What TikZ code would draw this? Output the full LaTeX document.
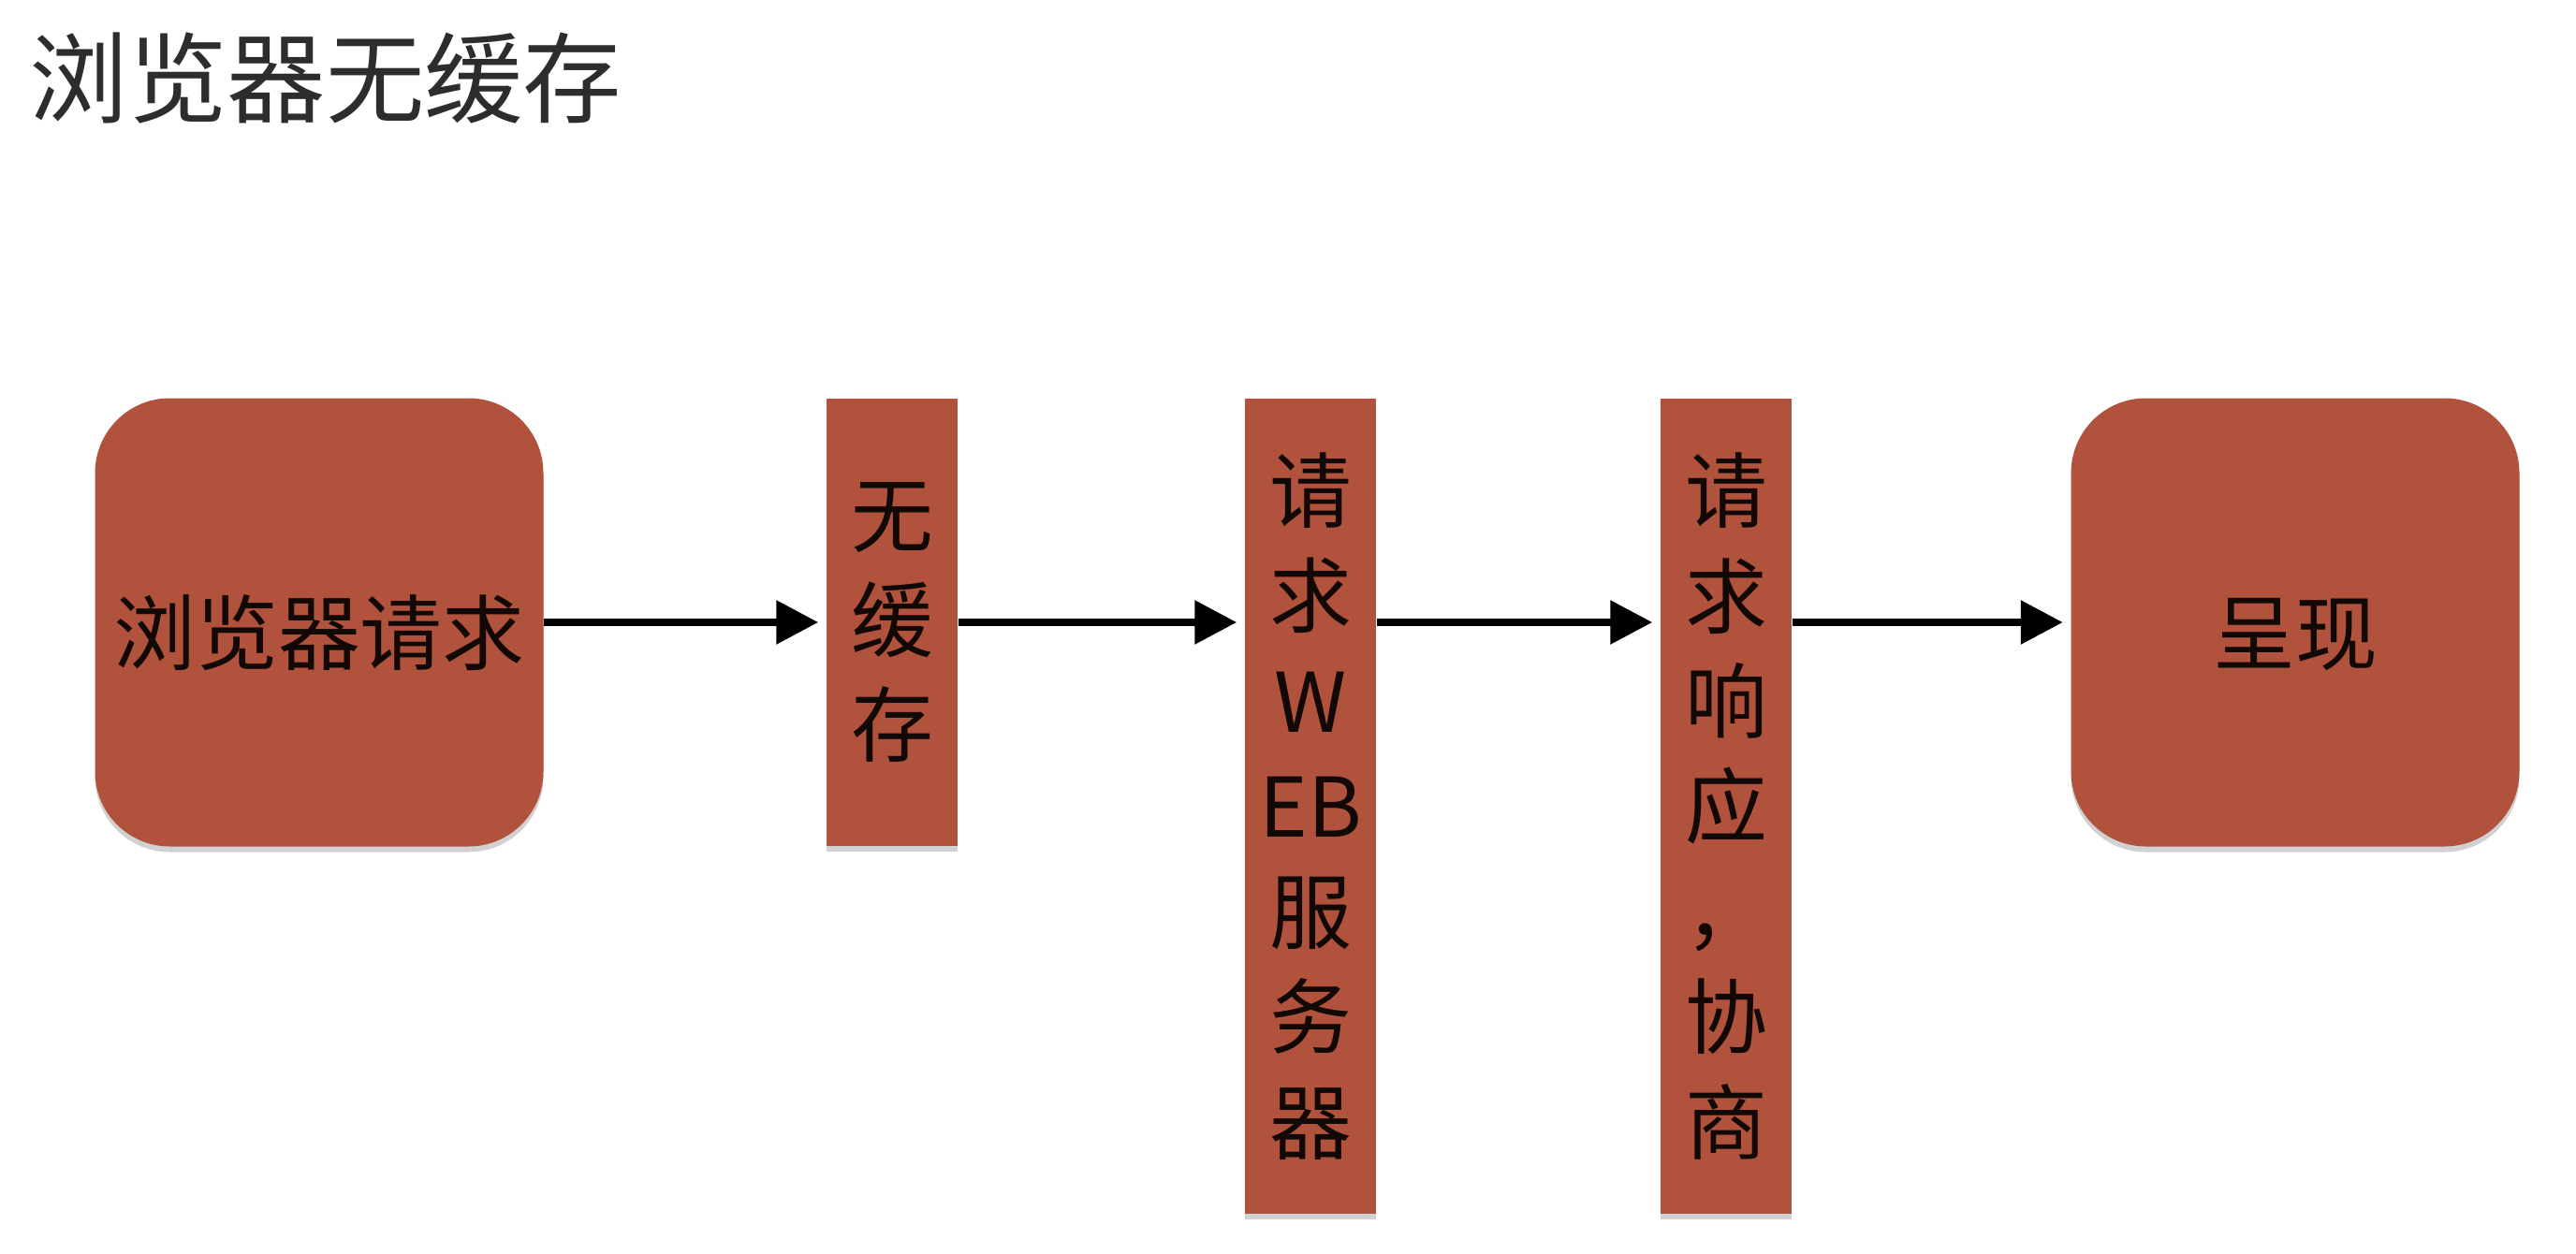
\documentclass[tikz,border=0pt]{standalone}
\usepackage{fontspec}
\newfontfamily\cjk{Noto Sans CJK SC}
\usetikzlibrary{arrows.meta,shadows}
\definecolor{boxred}{RGB}{176,82,60}
\definecolor{titlegray}{RGB}{45,45,45}
\begin{document}
\begin{tikzpicture}[
  x=1cm,y=1cm,
  base/.style={fill=boxred, draw=none, inner sep=0pt, text=black!90!boxred,
    font=\cjk\fontsize{25pt}{32pt}\selectfont, align=center,
    drop shadow={shadow xshift=0pt, shadow yshift=-0.06cm, opacity=0.18, fill=black}},
  bigbox/.style={base, rounded corners=0.8cm, minimum width=4.79cm, minimum height=4.79cm},
  colbox/.style={base, minimum width=1.40cm},
  arr/.style={-{Triangle[length=0.45cm,width=0.45cm]}, line width=2.5pt, shorten >=0.08cm}
]
\useasboundingbox (0,0) rectangle (27.52,-13.40);
\node[anchor=west, text=titlegray, font=\cjk\fontsize{30pt}{36pt}\selectfont, inner sep=0pt] (title) at (0.31,-0.84) {浏览器无缓存};

\node[bigbox] (b1) at (3.41,-6.65) {\smash{\raisebox{-0.44cm}{浏览器请求}}};
\node[colbox, minimum height=4.78cm] (b2) at (9.53,-6.65) {无\\缓\\存};
\node[colbox, minimum height=8.71cm] (b3) at (14.00,-8.615) {请\\求\\W\\EB\\服\\务\\器};
\node[colbox, minimum height=8.71cm] (b4) at (18.44,-8.615) {请\\求\\响\\应\\，\\协\\商};
\node[bigbox] (b5) at (24.52,-6.65) {\smash{\raisebox{-0.44cm}{呈现}}};

\draw[arr] (b1.east) -- (b2.west);
\draw[arr] (b2.east) -- (b3.west |- b2.east);
\draw[arr] (b3.east |- b2.east) -- (b4.west |- b2.east);
\draw[arr] (b4.east |- b2.east) -- (b5.west);
\end{tikzpicture}
\end{document}
